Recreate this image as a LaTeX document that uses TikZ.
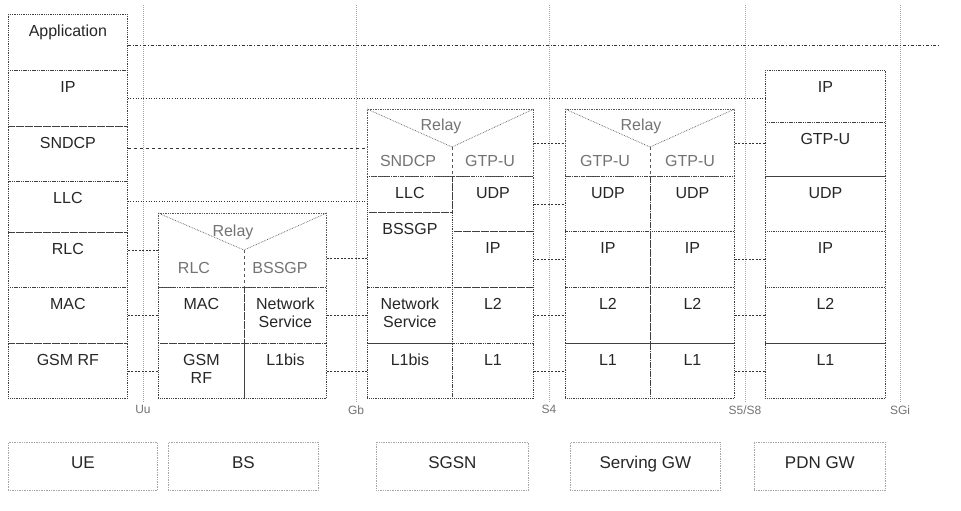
\documentclass[tikz,border=0pt]{standalone}
\usepackage{fontspec}
\setmainfont{Liberation Sans}
\usetikzlibrary{positioning, calc}

\begin{document}
\begin{tikzpicture}[x=1pt, y=-1pt,
    every node/.style={font=\fontsize{16}{18}\selectfont, text=black!85},
    layer/.style={draw=black!75, densely dotted, line width=0.8pt, inner sep=0pt, anchor=north west},
    lbl/.style={anchor=north, inner sep=0pt, yshift=-11pt, align=center},
    relaybox/.style={draw=black!65, densely dotted, line width=0.7pt, inner sep=0pt, anchor=north west},
    relayline/.style={draw=black!65, densely dotted, line width=0.7pt},
    ghost/.style={text=black!55},
    peer/.style={black!80, line width=0.6pt, dash pattern=on 2pt off 1.5pt},
    iface/.style={gray!70, densely dotted, line width=1pt},
    iflabel/.style={font=\fontsize{12}{14}\selectfont, text=black!55, inner sep=2pt},
    sitebox/.style={draw=black!35, densely dotted, line width=0.7pt, anchor=north west, text height=12pt, text depth=8pt, font=\fontsize{17}{19}\selectfont}]

  \useasboundingbox (0,0) rectangle (961,511);

  \foreach \x/\n/\l in {143/uu/Uu, 356/gb/Gb, 549/sfour/S4, 745/sfive/{S5/S8}, 900/sgi/SGi}
    \draw[iface] (\x,5) coordinate (\n-top) -- (\x,403) coordinate (\n-bot) node[iflabel, below] (\n-lbl) {\l};

  \foreach \n/\a/\h/\t in {app/14/56/Application, ip/70/56/IP, sndcp/126/55/SNDCP, llc/181/51/LLC, rlc/232/55/RLC, mac/287/56/MAC, rf/343/55/GSM RF}
    \node[layer, minimum width=119, minimum height=\h, label={[lbl]north:\t}] (ue-\n) at (8,\a) {};

  \node[relaybox, minimum width=168, minimum height=74] (bs-relay) at (158,213) {};
  \foreach \n/\x/\a/\w/\h/\t in {mac/158/287/86/56/MAC, rf/158/343/86/55/GSM\\RF, ns/244/287/82/56/Network\\Service, lone/244/343/82/55/L1bis}
    \node[layer, minimum width=\w, minimum height=\h, label={[lbl]north:\t}] (bs-\n) at (\x,\a) {};
  \coordinate (bs-apex) at (244,250);
  \draw[relayline] (bs-relay.north west) -- (bs-apex) -- (bs-relay.north east);
  \draw[relayline, dashed] (bs-apex) -- (bs-ns.north west);
  \node[ghost] (bs-relaytxt) at (233,232) {Relay};
  \node[ghost] (bs-rlc) at (194,268) {RLC};
  \node[ghost] (bs-bssgp) at (280,268) {BSSGP};

  \node[relaybox, minimum width=166, minimum height=67] (sgsn-relay) at (367,109) {};
  \foreach \n/\x/\a/\w/\h/\t in {llc/367/176/85/36/LLC, bssgp/367/212/85/75/BSSGP, ns/367/287/85/56/Network\\Service, lonebis/367/343/85/55/L1bis,
                                 udp/452/176/81/55/UDP, ip/452/231/81/56/IP, ltwo/452/287/81/56/L2, lone/452/343/81/55/L1}
    \node[layer, minimum width=\w, minimum height=\h, label={[lbl]north:\t}] (sgsn-\n) at (\x,\a) {};
  \coordinate (sgsn-apex) at (452,147);
  \draw[relayline] (sgsn-relay.north west) -- (sgsn-apex) -- (sgsn-relay.north east);
  \draw[relayline, dashed] (sgsn-apex) -- (sgsn-udp.north west);
  \node[ghost] (sgsn-relaytxt) at (441,126) {Relay};
  \node[ghost] (sgsn-sndcp) at (408,161) {SNDCP};
  \node[ghost] (sgsn-gtp) at (490,161) {GTP-U};

  \node[relaybox, minimum width=169, minimum height=67] (sgw-relay) at (565,109) {};
  \foreach \s/\x/\w in {a/565/85, b/650/84}
    \foreach \n/\a/\h/\t in {udp/176/55/UDP, ip/231/56/IP, ltwo/287/56/L2, lone/343/55/L1}
      \node[layer, minimum width=\w, minimum height=\h, label={[lbl]north:\t}] (sgw-\s-\n) at (\x,\a) {};
  \coordinate (sgw-apex) at (650,147);
  \draw[relayline] (sgw-relay.north west) -- (sgw-apex) -- (sgw-relay.north east);
  \draw[relayline, dashed] (sgw-apex) -- (sgw-b-udp.north west);
  \node[ghost] (sgw-relaytxt) at (641,126) {Relay};
  \node[ghost] (sgw-gtpa) at (605,161) {GTP-U};
  \node[ghost] (sgw-gtpb) at (690,161) {GTP-U};

  \foreach \n/\a/\h/\t in {ip/70/52/IP, gtp/122/54/GTP-U, udp/176/55/UDP, ipb/231/56/IP, ltwo/287/56/L2, lone/343/55/L1}
    \node[layer, minimum width=120, minimum height=\h, label={[lbl]north:\t}] (pdn-\n) at (765,\a) {};

  \draw[peer, dash dot] ([yshift=-3pt]ue-app.east) -- ++(813,0) coordinate (app-end);
  \draw[peer, dotted] (ue-ip.east) -- (ue-ip.east -| pdn-ip.west);
  \draw[peer, dashed, line width=0.8pt] ([yshift=5.5pt]ue-sndcp.east) -- ([yshift=5.5pt]ue-sndcp.east -| sgsn-relay.west);
  \draw[peer, dotted] ([yshift=5.5pt]ue-llc.east) -- ([yshift=5.5pt]ue-llc.east -| sgsn-llc.west);

  \draw[peer] (bs-relay.west) -- (bs-relay.west -| ue-rlc.east);
  \draw[peer] (ue-mac.east) -- (bs-mac.west);
  \draw[peer] (ue-rf.east) -- (bs-rf.west);

  \draw[peer] ([yshift=-8pt]bs-relay.east) -- ([yshift=-8pt]bs-relay.east -| sgsn-bssgp.west);
  \draw[peer] (bs-ns.east) -- (sgsn-ns.west);
  \draw[peer] (bs-lone.east) -- (sgsn-lonebis.west);

  \draw[peer] (sgsn-relay.east) -- (sgw-relay.west);
  \draw[peer] (sgsn-udp.east) -- (sgw-a-udp.west);
  \draw[peer] (sgsn-ip.east) -- (sgw-a-ip.west);
  \draw[peer] (sgsn-ltwo.east) -- (sgw-a-ltwo.west);
  \draw[peer] (sgsn-lone.east) -- (sgw-a-lone.west);

  \draw[peer] (sgw-relay.east) -- (sgw-relay.east -| pdn-gtp.west);
  \draw[peer] (sgw-b-ip.east) -- (pdn-ipb.west);
  \draw[peer] (sgw-b-ltwo.east) -- (pdn-ltwo.west);
  \draw[peer] (sgw-b-lone.east) -- (pdn-lone.west);

  \node[sitebox, minimum width=149, minimum height=48] (site-ue) at (8,442) {UE};
  \node[sitebox, minimum width=150, minimum height=48] (site-bs) at (168,442) {BS};
  \node[sitebox, minimum width=152, minimum height=48] (site-sgsn) at (376,442) {SGSN};
  \node[sitebox, minimum width=150, minimum height=48] (site-sgw) at (570,442) {Serving GW};
  \node[sitebox, minimum width=131, minimum height=48] (site-pdn) at (754,442) {PDN GW};
\end{tikzpicture}
\end{document}
